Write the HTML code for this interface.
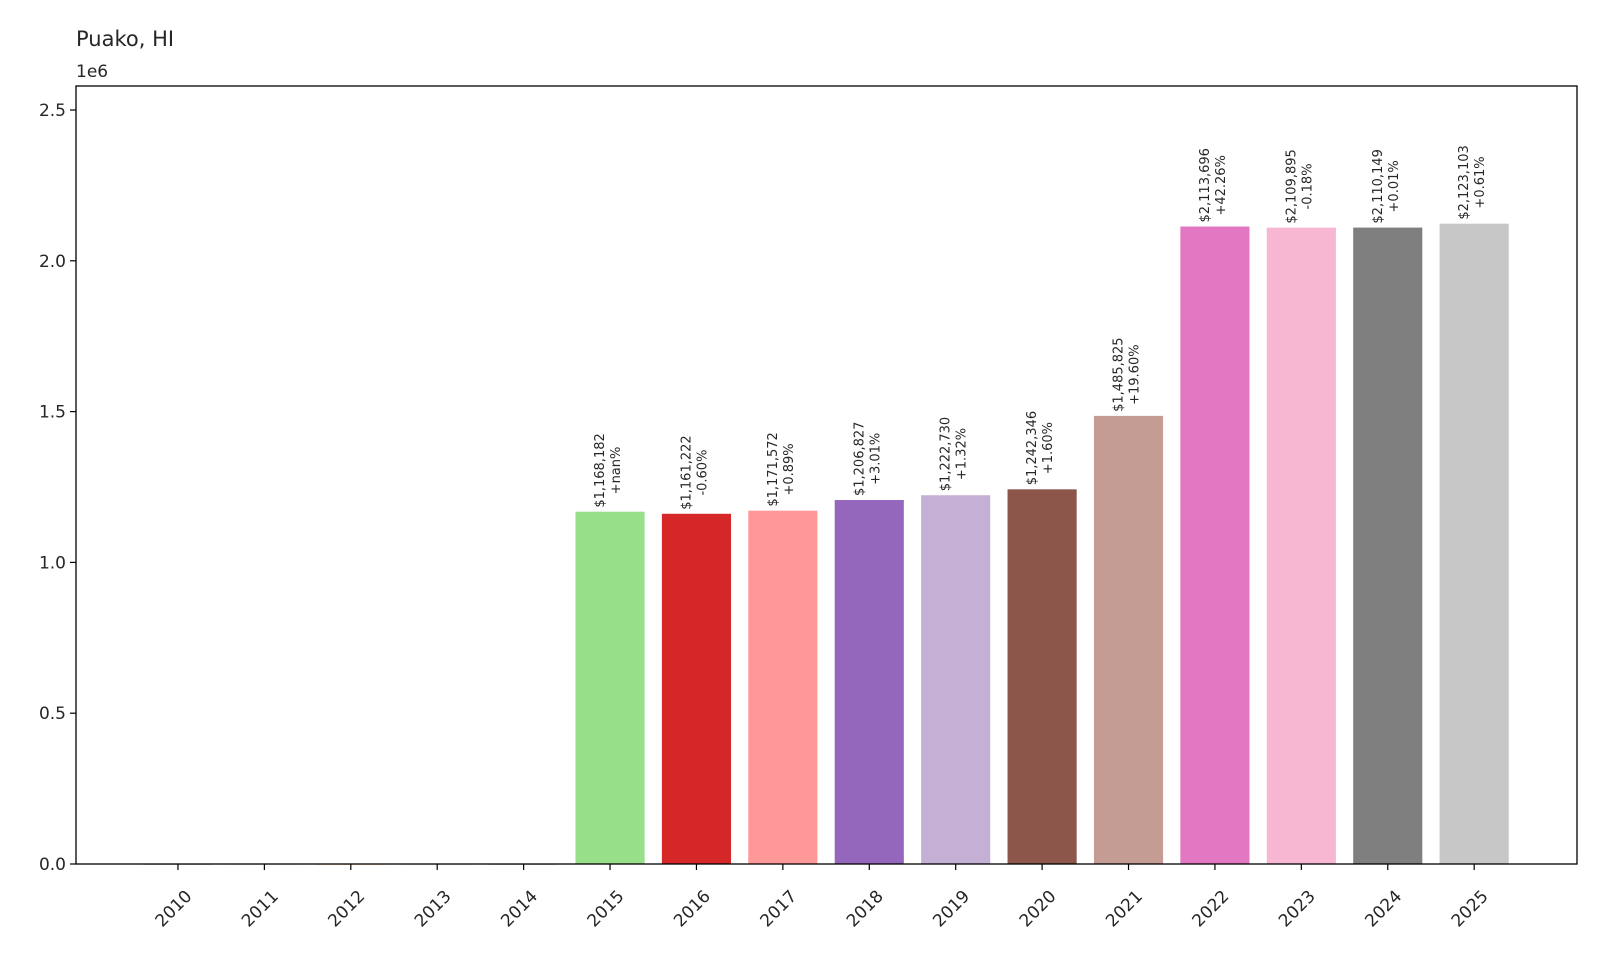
<!DOCTYPE html>
<html><head><meta charset="utf-8"><style>
html,body{margin:0;padding:0;background:#fff;}
svg text{font-family:"DejaVu Sans","Liberation Sans",sans-serif;fill:#262626;}
</style></head><body>
<svg id="chart" width="1600" height="960" xmlns="http://www.w3.org/2000/svg">
<rect width="1600" height="960" fill="#fff"/>
<text x="76" y="46" font-size="21">Puako, HI</text>
<text x="76" y="77" font-size="17">1e6</text>
<g id="bars"></g>
<g id="yaxis"></g>
<g id="xaxis"></g>
<rect x="76" y="86" width="1501" height="778" fill="none" stroke="#000" stroke-width="1.3"/>
</svg>
<script>
const years = [2010,2011,2012,2013,2014,2015,2016,2017,2018,2019,2020,2021,2022,2023,2024,2025];
const values = [0,0,0,0,0,1168182,1161222,1171572,1206827,1222730,1242346,1485825,2113696,2109895,2110149,2123103];
const valueLabels = ["","","","","","$1,168,182","$1,161,222","$1,171,572","$1,206,827","$1,222,730","$1,242,346","$1,485,825","$2,113,696","$2,109,895","$2,110,149","$2,123,103"];
const changeLabels = ["","","","","","+nan%","-0.60%","+0.89%","+3.01%","+1.32%","+1.60%","+19.60%","+42.26%","-0.18%","+0.01%","+0.61%"];
const colors = ["#1f77b4","#aec7e8","#ff7f0e","#ffbb78","#2ca02c","#98df8a","#d62728","#ff9896","#9467bd","#c5b0d5","#8c564b","#c49c94","#e377c2","#f7b6d2","#7f7f7f","#c7c7c7"];
const yTicks = [0,500000,1000000,1500000,2000000,2500000];
const yTickLabels = ["0.0","0.5","1.0","1.5","2.0","2.5"];

const NS = "http://www.w3.org/2000/svg";
const L=76,R=1577,T=86,B=864;
const yMax=2579600;
const xMin=-1.18,xMax=years.length-1+1.19;
function xs(i){return L+(i-xMin)/(xMax-xMin)*(R-L);}
function ys(v){return B-v/yMax*(B-T);}
const step=xs(1)-xs(0), bw=step*0.8;
function mk(tag,attrs,parent){const e=document.createElementNS(NS,tag);for(const k in attrs)e.setAttribute(k,attrs[k]);parent.appendChild(e);return e;}

const gb=document.getElementById('bars');
years.forEach((y,i)=>{
  const cx=xs(i), top=ys(values[i]);
  const r=mk('rect',{x:cx-bw/2,y:top,width:bw,height:Math.max(B-top,0.6),fill:colors[i]},gb);
  
  
  if(valueLabels[i]){
    const t=mk('text',{transform:`translate(${cx},${top-4}) rotate(-90)`,'font-size':'13'},gb);
    
    
    mk('tspan',{x:0,y:-6},t).textContent=valueLabels[i];
    const t2=mk('tspan',{x:0,y:10},t);
    t2.textContent=changeLabels[i];
    t2.setAttribute('dx','0');
    // center second line relative to first
    t.setAttribute('text-anchor','start');
  }
});
// center-align lines like matplotlib (multi-line centered)
gb.querySelectorAll('text').forEach(t=>{
  const sp=t.querySelectorAll('tspan');
  const w0=sp[0].getComputedTextLength(), w1=sp[1].getComputedTextLength();
  sp[1].setAttribute('x',(w0-w1)/2);
});

const gy=document.getElementById('yaxis');
yTicks.forEach((v,i)=>{
  const y=ys(v);
  const l=mk('line',{x1:L-6,x2:L,y1:y,y2:y,stroke:'#000','stroke-width':1.2},gy);
  
  
  const t=mk('text',{x:L-10,y:y+6,'font-size':'17','text-anchor':'end'},gy);
  
  
  t.textContent=yTickLabels[i];
});
const gx=document.getElementById('xaxis');
years.forEach((yr,i)=>{
  const x=xs(i);
  const l=mk('line',{x1:x,x2:x,y1:B,y2:B+6,stroke:'#000','stroke-width':1.2},gx);
  
  
  const t=mk('text',{transform:`translate(${x-4},${909}) rotate(-45)`,'font-size':'17','text-anchor':'middle','dominant-baseline':'central'},gx);
  
  
  t.textContent=yr;
});
</script>
</body></html>
